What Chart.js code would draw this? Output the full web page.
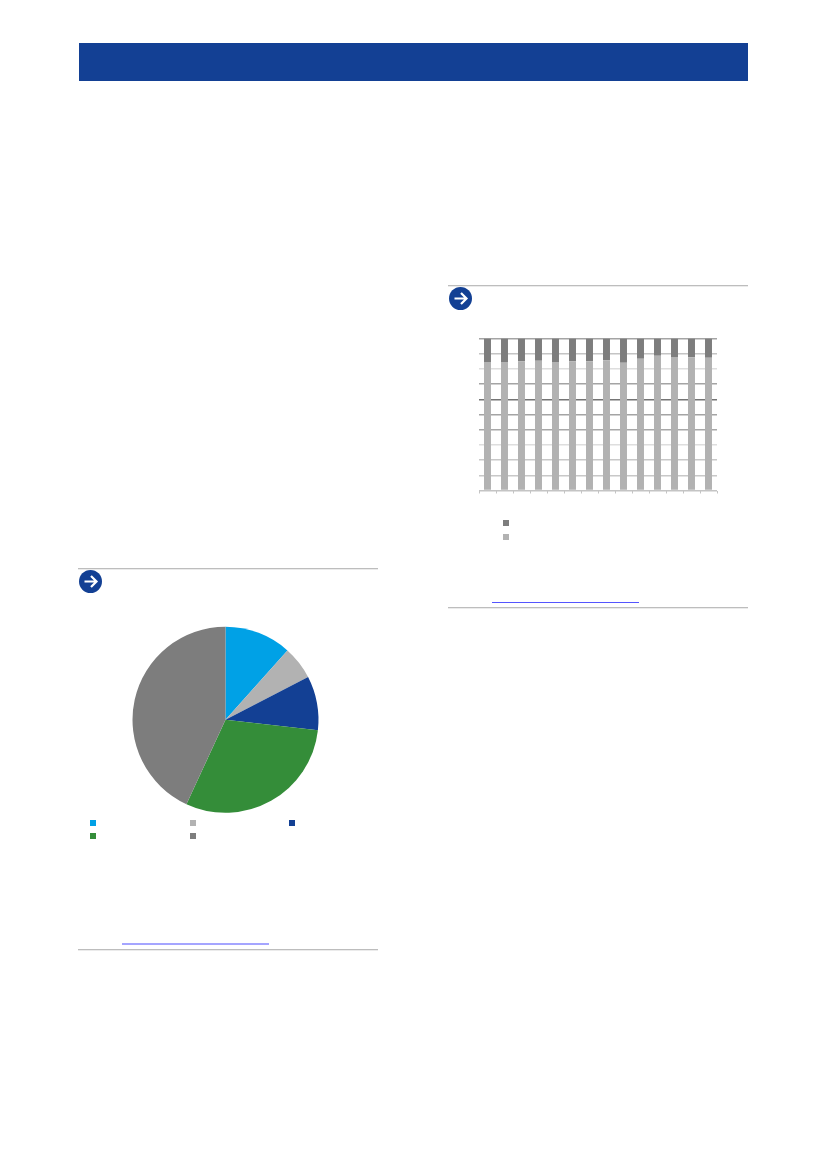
<!DOCTYPE html>
<html><head><meta charset="utf-8">
<script src="https://cdn.jsdelivr.net/npm/chart.js@4/dist/chart.umd.min.js"></script>
<style>
html,body{margin:0;padding:0;background:#fff;width:826px;height:1169px;overflow:hidden}
.a{position:absolute}
.rule{width:300px;height:1px;background:#bdbdbd;box-shadow:0 1px 0 #ebebeb}
canvas{display:block}
</style></head><body>
<div class="a" style="left:79px;top:43px;width:669px;height:37.5px;background:#134094"></div>

<div class="a rule" style="left:78px;top:568px"></div>
<svg class="a" style="left:79px;top:570px" width="23" height="23" viewBox="0 0 23 23"><circle cx="11.5" cy="11.5" r="11.5" fill="#134094"/><path d="M5.5 11.5H17M12 6l5.5 5.5L12 17" fill="none" stroke="#fff" stroke-width="2.2"/></svg>
<div class="a" style="left:122px;top:943px;width:147px;height:2px;background:#a5a5ff"></div>
<div class="a rule" style="left:78px;top:949px"></div>

<div class="a rule" style="left:448px;top:285px"></div>
<svg class="a" style="left:449px;top:287px" width="23" height="23" viewBox="0 0 23 23"><circle cx="11.5" cy="11.5" r="11.5" fill="#134094"/><path d="M5.5 11.5H17M12 6l5.5 5.5L12 17" fill="none" stroke="#fff" stroke-width="2.2"/></svg>
<div class="a" style="left:492px;top:602px;width:147px;height:1px;background:#5555ff"></div>
<div class="a rule" style="left:448px;top:607px"></div>

<div class="a" style="left:120px;top:614px;width:210px;height:210px"><canvas id="pie"></canvas></div>
<div class="a" style="left:460px;top:330px;width:270px;height:170px"><canvas id="bar"></canvas></div>

<script>
// Pie chart: shares (labels are blank in the reference)
const pieSlots = [1, 2, 3, 4, 5];
const pieValues = [11.6, 5.8, 9.4, 30.1, 43.1];
const pieColors = ['#00a1e6', '#b2b2b2', '#134094', '#348d39', '#7d7d7d'];

// Stacked bars: 14 unlabelled categories
const barSlots = [1, 2, 3, 4, 5, 6, 7, 8, 9, 10, 11, 12, 13, 14];
const lowerValues = [84.6, 84.6, 85.1, 85.3, 84.6, 85.1, 85.1, 85.7, 84.0, 86.6, 88.6, 87.9, 87.7, 87.3];
const upperValues = [15.4, 15.4, 14.9, 14.7, 15.4, 14.9, 14.9, 14.3, 16.0, 13.4, 11.4, 12.1, 12.3, 12.7];
const barColors = ['#b2b2b2', '#7d7d7d'];
const yTicks = [0, 10, 20, 30, 40, 50, 60, 70, 80, 90, 100];
const gridShades = ['#c4c4c4', '#c8c8c8', '#c8c8c8', '#dedede', '#a8a8a8', '#a4a4a4', '#757575', '#a4a4a4', '#dedede', '#c4c4c4', '#a4a4a4'];

Chart.defaults.animation = false;
Chart.defaults.responsive = true;
Chart.defaults.maintainAspectRatio = false;

new Chart(document.getElementById('pie'), {
  type: 'pie',
  data: {labels: pieSlots, datasets: [{data: pieValues, backgroundColor: pieColors, borderWidth: 0}]},
  options: {
    layout: {padding: {left: 12.5, right: 11.5, top: 12, bottom: 10.5}},
    plugins: {legend: {display: false}, tooltip: {enabled: false}}
  }
});

new Chart(document.getElementById('bar'), {
  type: 'bar',
  data: {labels: barSlots, datasets: [
    {data: lowerValues, backgroundColor: barColors[0], barPercentage: 0.41, categoryPercentage: 1},
    {data: upperValues, backgroundColor: barColors[1], barPercentage: 0.41, categoryPercentage: 1}
  ]},
  options: {
    layout: {padding: {left: 19, right: 13, top: 8.5, bottom: 6.5}},
    plugins: {legend: {display: false}, tooltip: {enabled: false}},
    scales: {
      x: {
        stacked: true,
        ticks: {display: false},
        grid: {drawOnChartArea: false, offset: true, tickLength: 3, color: '#c4c4c4', lineWidth: 1},
        border: {display: false}
      },
      y: {
        stacked: true, min: 0, max: 100,
        afterBuildTicks: ax => { ax.ticks = yTicks.map(v => ({value: v})); },
        ticks: {display: false},
        grid: {drawTicks: false, lineWidth: 1.4, color: c => gridShades[c.index]},
        border: {display: false}
      }
    }
  }
});

// Legend swatches in page space, colours taken from the same arrays
const legendSpots = [[90, 820, 0], [190, 820, 1], [289, 820, 2], [90, 833, 3], [190, 833, 4], [503, 520, 5], [503, 534, 6]];
const legendColors = [...pieColors, barColors[1], barColors[0]];
legendSpots.forEach(([x, y, i]) => {
  const d = document.createElement('div');
  d.className = 'a';
  d.style.cssText = `left:${x}px;top:${y}px;width:6px;height:6px;background:${legendColors[i]}`;
  document.body.appendChild(d);
});
</script>
</body></html>
